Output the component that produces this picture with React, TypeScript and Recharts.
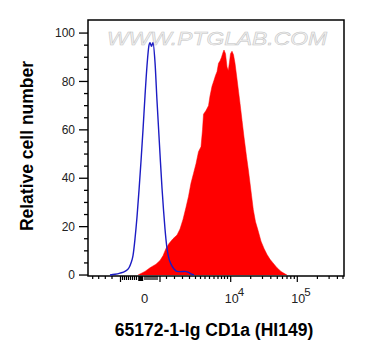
import React from "react";
import { ComposedChart, Area, Line, XAxis, YAxis, ReferenceArea } from "recharts";

// Fluorescence channel (display units across the biexponential axis, 0..256)
const cd1aChannel = [50, 57, 62, 68, 72, 75, 78, 81, 85, 89, 92, 95, 98, 100.5, 103, 105.5, 108, 110.5, 113, 114.5, 115.5, 118, 120.5, 122, 124, 126, 127.5, 129, 130.5, 132, 133.5, 135, 136, 137.5, 139, 140.3, 141.5, 142.5, 144, 145.5, 147, 149, 150.5, 152, 154, 156, 158.5, 160.5, 162, 163.5, 165.3, 167.5, 170, 173, 176, 179, 182, 185, 189, 193, 196, 199];
const cd1aCount = [0, 1.5, 3, 4.5, 6, 8, 11, 13, 15, 16.5, 19, 23, 28, 32.5, 38, 42, 46, 51, 53, 60, 66.5, 68, 70, 74, 78, 80.5, 82.5, 84, 87.5, 88.5, 90, 92, 93, 91.5, 86, 84.5, 88, 91.5, 92.5, 91, 87.5, 81, 76, 71, 64, 57, 49, 43, 38, 33, 27, 22, 18.5, 14, 11, 8.5, 6.5, 5, 3, 1.5, 0.7, 0];

const isotypeChannel = [22, 27, 32, 37, 41, 43, 45, 47, 49, 51, 53, 55, 57, 59, 61, 62, 63.5, 65, 67, 69, 72, 74, 75.5, 77, 78.7, 80.5, 83, 86, 89, 93, 97, 100, 103, 106];
const isotypeCount = [0, 0.3, 0.8, 1.5, 3, 5, 8, 15, 24, 35, 47, 60, 74, 86.5, 95, 96, 94.5, 96, 88, 72, 50, 36, 27, 19, 12, 7.5, 4.5, 2.5, 1.5, 1.4, 1.5, 1.2, 0.5, 0];

// Axis ticks
const yMajorTicks = [0, 20, 40, 60, 80, 100];
const yMinorTicks = [5, 10, 15, 25, 30, 35, 45, 50, 55, 65, 70, 75, 85, 90, 95];
const xMajorTicks = [32.5, 72, 142.7, 209.3];
const xZeroTick = [52.7];
const xDenseTicks = [34.5, 36.5, 38.5, 40.5, 42.5, 44.5, 46.5, 48.5, 57, 59, 61, 63, 65, 67, 69];
const xMinorTicks = [4.7, 10.7, 17.3, 24, 78.5, 86.5, 94.5, 101.5, 107.5, 112.5, 117, 121.5, 126, 130, 133.5, 136.5, 139.5, 162.7, 174.5, 182.8, 189.3, 194.5, 199, 202.8, 206.3, 229.4, 241.1, 249.4, 255];
const xTickLabels = [
  { at: 52.7, base: "0", exp: "" },
  { at: 142.7, base: "10", exp: "4" },
  { at: 209.3, base: "10", exp: "5" },
];

const xLabel = "65172-1-Ig CD1a (HI149)";
const yLabel = "Relative cell number";
const watermark = "WWW.PTGLAB.COM";

const cd1aData = cd1aChannel.map((c, i) => ({ ch: c, cd1a: cd1aCount[i] }));
const isotypeData = isotypeChannel.map((c, i) => ({ ch: c, iso: isotypeCount[i] }));
const allXTicks = [...xMajorTicks, ...xZeroTick, ...xDenseTicks, ...xMinorTicks].sort((a, b) => a - b);
const allYTicks = [...yMajorTicks, ...yMinorTicks].sort((a, b) => a - b);

const FONT = "'Liberation Sans', Arial, sans-serif";

const YTick = (props: any) => {
  const { x, y, payload } = props;
  const v = payload.value;
  const major = yMajorTicks.includes(v);
  return (
    <g>
      <line x1={x - (major ? 9 : 4)} x2={x} y1={y} y2={y} stroke="#000" strokeWidth={1.3} />
      {major && (
        <text x={x - 13} y={y} dy="0.35em" textAnchor="end" fontSize={12} fontFamily={FONT} fill="#222">
          {v}
        </text>
      )}
    </g>
  );
};

const XTick = (props: any) => {
  const { x, y, payload } = props;
  const v = payload.value;
  const isZero = xZeroTick.includes(v);
  const isMajor = xMajorTicks.includes(v);
  const isDense = xDenseTicks.includes(v);
  const lab = xTickLabels.find((l) => l.at === v);
  return (
    <g>
      {isZero ? (
        <rect x={x - 2.5} y={y} width={5} height={5} fill="#000" />
      ) : (
        <line x1={x} x2={x} y1={y} y2={y + (isMajor ? 6 : isDense ? 4 : 3)} stroke="#000" strokeWidth={1.2} />
      )}
      {lab && lab.exp === "" && (
        <text x={x + 4} y={y + 27} textAnchor="middle" fontSize={13} fontFamily={FONT} fill="#222">
          {lab.base}
        </text>
      )}
      {lab && lab.exp !== "" && (
        <g>
          <text x={x + 1} y={y + 27} textAnchor="middle" fontSize={12.5} fontFamily={FONT} fill="#222">
            {lab.base}
          </text>
          <text x={x + 7} y={y + 20} textAnchor="start" fontSize={11.5} fontFamily={FONT} fill="#222">
            {lab.exp}
          </text>
        </g>
      )}
    </g>
  );
};

export default function App() {
  return (
    <div style={{ position: "absolute", left: 0, top: 0, width: 365, height: 360, background: "#fff" }}>
      <ComposedChart width={365} height={360} margin={{ top: 20, right: 21, bottom: 0, left: 0 }}>
        <text
          x={217}
          y={45}
          textAnchor="middle"
          fontSize={18.5}
          fontFamily={FONT}
          fontStyle="italic"
          fill="#f2f2f2"
          stroke="#c4c4c4"
          strokeWidth={0.5}
          textLength={220}
          lengthAdjust="spacingAndGlyphs"
        >
          {watermark}
        </text>
        <XAxis
          type="number"
          dataKey="ch"
          domain={[0, 256]}
          ticks={allXTicks}
          interval={0}
          tickSize={0}
          tickMargin={0}
          tickLine={false}
          axisLine={false}
          height={84}
          tick={<XTick />}
          allowDataOverflow
        />
        <YAxis
          type="number"
          domain={[-0.4, 105.4]}
          ticks={allYTicks}
          interval={0}
          tickSize={0}
          tickMargin={0}
          tickLine={false}
          axisLine={false}
          width={88}
          tick={<YTick />}
          allowDataOverflow
        />
        <Area
          data={cd1aData}
          dataKey="cd1a"
          type="linear"
          fill="#ff0000"
          fillOpacity={1}
          stroke="#ff0000"
          strokeWidth={0.5}
          isAnimationActive={false}
          dot={false}
          activeDot={false}
        />
        <Line
          data={isotypeData}
          dataKey="iso"
          type="monotone"
          stroke="#1c1cc4"
          strokeWidth={1.4}
          dot={false}
          activeDot={false}
          isAnimationActive={false}
        />
        <ReferenceArea x1={0} x2={256} y1={-0.4} y2={105.4} fill="none" stroke="#000" strokeWidth={1.5} ifOverflow="visible" />
        <text x={214} y={336} textAnchor="middle" fontSize={17.5} fontWeight="bold" fontFamily={FONT} fill="#000">
          {xLabel}
        </text>
        <text
          x={33}
          y={146}
          textAnchor="middle"
          fontSize={17.5}
          fontWeight="bold"
          fontFamily={FONT}
          fill="#000"
          transform="rotate(-90 33 146)"
        >
          {yLabel}
        </text>
      </ComposedChart>
    </div>
  );
}
